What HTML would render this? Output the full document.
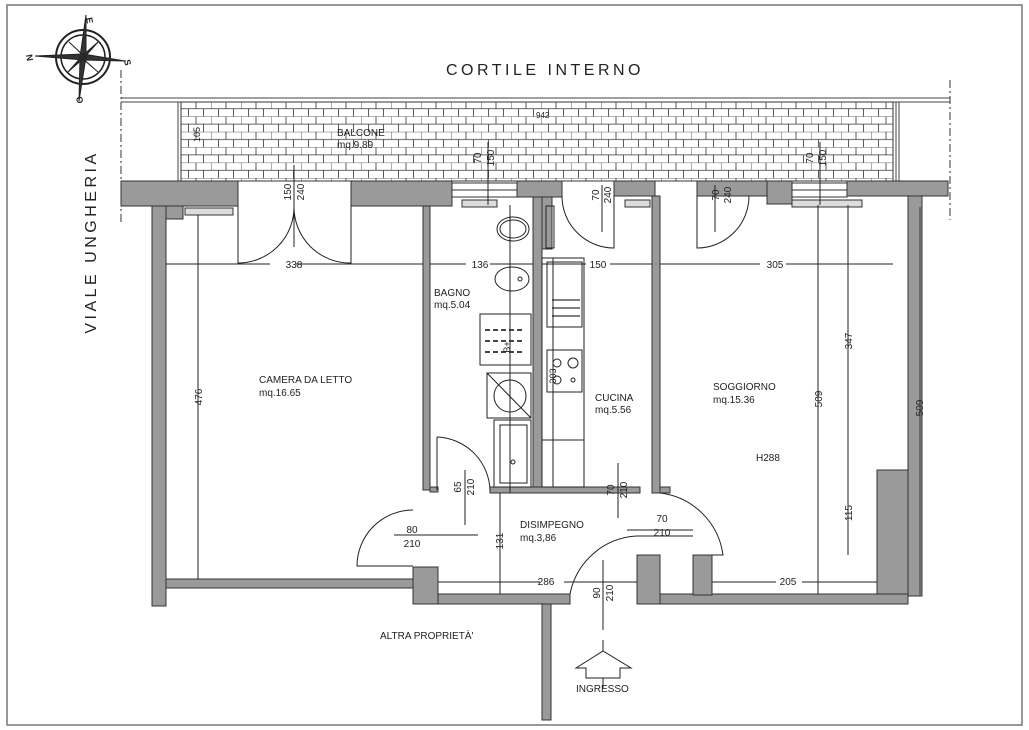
<!DOCTYPE html>
<html><head><meta charset="utf-8"><style>
html,body{margin:0;padding:0;background:#fff}
svg{display:block}
text{font-family:"Liberation Sans",sans-serif;fill:#222}
</style></head><body>
<svg width="1029" height="730" viewBox="0 0 1029 730" xmlns="http://www.w3.org/2000/svg">
<defs>
<pattern id="brick" x="181" y="101" width="30" height="15.4" patternUnits="userSpaceOnUse">
<rect width="30" height="15.4" fill="#fff"/>
<path d="M0 0H30M0 7.7H30M0 0V7.7M15 0V7.7M7.5 7.7V15.4M22.5 7.7V15.4" stroke="#333" stroke-width="0.8" fill="none"/>
</pattern>
</defs>
<rect x="7" y="5" width="1015" height="720" fill="none" stroke="#777" stroke-width="1.5"/>

<!-- compass -->
<g transform="translate(83,57)" stroke="#222" fill="none">
<circle r="27" stroke-width="2"/><circle r="22" stroke-width="1.5"/>
<polygon points="3,-42 -3,0 3,0" fill="#333"/><polygon points="-48,-1 0,-3 0,3" fill="#333"/>
<polygon points="42,4 0,-3 0,3" fill="#333"/><polygon points="-4,44 -3,0 3,0" fill="#333"/>
<polygon points="-14,-15 0,-2 2,0" fill="#333"/><polygon points="15,-15 0,2 -2,0" fill="#333"/>
<polygon points="-15,15 0,-2 2,0" fill="#333"/><polygon points="15,15 0,2 -2,0" fill="#333"/>
</g>
<text x="86" y="18" font-size="9" font-weight="bold" transform="rotate(80 86 18)">E</text>
<text x="26" y="55" font-size="9" font-weight="bold" transform="rotate(80 26 55)">N</text>
<text x="124" y="60" font-size="9" font-weight="bold" transform="rotate(80 124 60)">S</text>
<text x="76" y="97" font-size="9" font-weight="bold" transform="rotate(80 76 97)">O</text>

<text x="545" y="75" font-size="16" letter-spacing="3.5" text-anchor="middle">CORTILE INTERNO</text>
<text x="96" y="242" font-size="16" letter-spacing="3.5" text-anchor="middle" transform="rotate(-90 96 242)">VIALE UNGHERIA</text>

<!-- balcony -->
<line x1="121" y1="98" x2="950" y2="98" stroke="#444"/>
<line x1="121" y1="102" x2="950" y2="102" stroke="#444"/>
<line x1="121" y1="70" x2="121" y2="225" stroke="#333" stroke-dasharray="8,3,2,3"/>
<line x1="950" y1="80" x2="950" y2="220" stroke="#333" stroke-dasharray="8,3,2,3"/>
<rect x="178" y="102" width="3" height="79" fill="none" stroke="#444"/>
<rect x="181" y="102" width="712" height="79" fill="url(#brick)" stroke="#333"/>
<rect x="896" y="102" width="3" height="79" fill="none" stroke="#444"/>
<text x="337" y="136" font-size="10">BALCONE</text>
<text x="337" y="148" font-size="10">mq.9.89</text>
<text x="536" y="118" font-size="8">942</text>
<text x="200" y="142" font-size="9" transform="rotate(-90 200 142)">105</text>

<!-- walls -->
<g fill="#9a9a9a" stroke="#333" stroke-width="1">
<rect x="121" y="181" width="117" height="25"/>
<rect x="152" y="206" width="14" height="400"/>
<rect x="166" y="206" width="17" height="13"/>
<rect x="351" y="181" width="101" height="25"/>
<rect x="423" y="206" width="7" height="284"/>
<rect x="517" y="181" width="45" height="16"/>
<rect x="533" y="197" width="9" height="293"/>
<rect x="542" y="197" width="10" height="52"/>
<rect x="614" y="181" width="41" height="15"/>
<rect x="652" y="196" width="8" height="297"/>
<rect x="697" y="181" width="70" height="15"/>
<rect x="767" y="181" width="25" height="23"/>
<rect x="847" y="181" width="101" height="15"/>
<rect x="908" y="196" width="14" height="400"/>
<rect x="877" y="470" width="31" height="126"/>
<rect x="166" y="579" width="247" height="9"/>
<rect x="413" y="567" width="25" height="37"/>
<rect x="438" y="594" width="132" height="10"/>
<rect x="542" y="604" width="9" height="116"/>
<rect x="490" y="487" width="150" height="6"/>
<rect x="637" y="555" width="23" height="49"/>
<rect x="660" y="594" width="248" height="10"/>
<rect x="693" y="555" width="19" height="40"/>
<rect x="430" y="487" width="8" height="5"/>
<rect x="660" y="487" width="10" height="6"/>
</g>
<!-- windows -->
<g stroke="#333" fill="none">
<rect x="452" y="183" width="65" height="14"/><line x1="452" y1="190" x2="517" y2="190"/>
<rect x="792" y="183" width="55" height="14"/><line x1="792" y1="190" x2="847" y2="190"/>
<rect x="185" y="208" width="48" height="7" fill="#ddd"/>
<rect x="462" y="200" width="35" height="7" fill="#ddd"/>
<rect x="625" y="200" width="25" height="7" fill="#ddd"/>
<rect x="792" y="200" width="70" height="7" fill="#ddd"/>
</g>
<!-- doors -->
<g stroke="#222" fill="none" stroke-width="1">
<path d="M238 206V263A56 56 0 0 0 294 206"/><path d="M351 206V263A56 56 0 0 1 294 206"/>
<line x1="294" y1="165" x2="294" y2="247"/>
<path d="M562 196A52 52 0 0 0 614 248V196"/>
<path d="M697 196V248A52 52 0 0 0 749 196"/>
<path d="M437 437V490M437 437A55 55 0 0 1 490 490"/>
<path d="M413 566H357A56 56 0 0 1 413 510"/>
<path d="M570 594A72 72 0 0 1 637 536H693"/>
<path d="M660 493A72 72 0 0 1 723 555H712"/>
</g>
<!-- fixtures -->
<g stroke="#222" fill="none">
<ellipse cx="513" cy="229" rx="16" ry="12"/><ellipse cx="513" cy="229" rx="13" ry="9"/>
<ellipse cx="512" cy="279" rx="17" ry="12"/><circle cx="520" cy="279" r="2"/>
<rect x="480" y="314" width="51" height="51"/>
<rect x="487" y="373" width="44" height="45"/><circle cx="510" cy="396" r="16"/><line x1="487" y1="373" x2="531" y2="418"/>
<rect x="494" y="420" width="37" height="67"/><rect x="500" y="425" width="27" height="58"/><circle cx="513" cy="462" r="2"/>
<rect x="542" y="258" width="42" height="229"/><rect x="547" y="262" width="35" height="65"/>
<rect x="547" y="350" width="35" height="42"/><line x1="542" y1="440" x2="584" y2="440"/>
<circle cx="557" cy="363" r="4"/><circle cx="573" cy="363" r="5"/><circle cx="557" cy="380" r="4"/><circle cx="573" cy="380" r="2"/>
<rect x="546" y="206" width="8" height="42"/>
</g>
<g stroke="#444" stroke-dasharray="5,3" stroke-width="2">
<line x1="485" y1="330" x2="525" y2="330"/><line x1="485" y1="341" x2="525" y2="341"/><line x1="485" y1="352" x2="525" y2="352"/>
</g>
<g stroke="#333" stroke-width="1.2"><line x1="552" y1="300" x2="580" y2="300"/><line x1="552" y1="308" x2="580" y2="308"/><line x1="552" y1="316" x2="580" y2="316"/></g>

<!-- dimension lines -->
<g stroke="#222" stroke-width="1">
<line x1="166" y1="264" x2="423" y2="264"/><line x1="430" y1="264" x2="533" y2="264"/>
<line x1="542" y1="264" x2="652" y2="264"/><line x1="660" y1="264" x2="893" y2="264"/>
<line x1="198" y1="215" x2="198" y2="579"/>
<line x1="510" y1="205" x2="510" y2="493"/><line x1="553" y1="258" x2="553" y2="487"/>
<line x1="818" y1="205" x2="818" y2="594"/><line x1="848" y1="205" x2="848" y2="555"/>
<line x1="920" y1="207" x2="920" y2="595" stroke-width="0.8"/>
<line x1="438" y1="582" x2="637" y2="582"/><line x1="712" y1="582" x2="877" y2="582"/>
<line x1="500" y1="493" x2="500" y2="594"/>
<line x1="394" y1="535" x2="478" y2="535"/>
<line x1="465" y1="470" x2="465" y2="525"/><line x1="618" y1="463" x2="618" y2="518"/>
<line x1="603" y1="560" x2="603" y2="630"/><line x1="603" y1="640" x2="603" y2="688"/>
<line x1="627" y1="530" x2="693" y2="530"/>
<line x1="488" y1="142" x2="488" y2="205"/><line x1="820" y1="142" x2="820" y2="205"/>
<line x1="602" y1="185" x2="602" y2="232"/><line x1="715" y1="185" x2="715" y2="232"/>
</g>
<path d="M576 668L603 651L631 668H620V678H586V668Z" fill="#fff" stroke="#222"/>

<g font-size="10" text-anchor="middle">
<rect x="270" y="258" width="26" height="12" fill="#fff"/><text x="294" y="268">338</text>
<rect x="466" y="258" width="24" height="12" fill="#fff"/><text x="480" y="268">136</text>
<rect x="586" y="258" width="24" height="12" fill="#fff"/><text x="598" y="268">150</text>
<rect x="760" y="258" width="26" height="12" fill="#fff"/><text x="775" y="268">305</text>
<rect x="540" y="576" width="24" height="12" fill="#fff"/><text x="546" y="585">286</text>
<rect x="776" y="576" width="26" height="12" fill="#fff"/><text x="788" y="585">205</text>
<text x="412" y="533">80</text><text x="412" y="547">210</text>
<text x="662" y="522">70</text><text x="662" y="536">210</text>
</g>
<g font-size="10" text-anchor="middle">
<text transform="translate(202,397) rotate(-90)">476</text>
<text transform="translate(503,541) rotate(-90)">131</text>
<text transform="translate(822,399) rotate(-90)">509</text>
<text transform="translate(852,341) rotate(-90)">347</text>
<text transform="translate(852,513) rotate(-90)">115</text>
<text transform="translate(923,408) rotate(-90)">509</text>
<text transform="translate(461,487) rotate(-90)">65</text><text transform="translate(474,487) rotate(-90)">210</text>
<text transform="translate(614,490) rotate(-90)">70</text><text transform="translate(627,490) rotate(-90)">210</text>
<text transform="translate(600,593) rotate(-90)">90</text><text transform="translate(613,593) rotate(-90)">210</text>
<text transform="translate(291,192) rotate(-90)">150</text><text transform="translate(304,192) rotate(-90)">240</text>
<text transform="translate(599,195) rotate(-90)">70</text><text transform="translate(611,195) rotate(-90)">240</text>
<text transform="translate(719,195) rotate(-90)">70</text><text transform="translate(731,195) rotate(-90)">240</text>
<text transform="translate(481,158) rotate(-90)">70</text><text transform="translate(494,158) rotate(-90)">150</text>
<text transform="translate(813,158) rotate(-90)">70</text><text transform="translate(826,158) rotate(-90)">150</text>
<text transform="translate(510,347) rotate(-90)" font-size="9">B+</text>
<text transform="translate(556,376) rotate(-90)" font-size="9">303</text>
</g>
<g font-size="10">
<text x="434" y="296">BAGNO</text><text x="434" y="308">mq.5.04</text>
<text x="259" y="383">CAMERA DA LETTO</text><text x="259" y="396">mq.16.65</text>
<text x="595" y="401">CUCINA</text><text x="595" y="413">mq.5.56</text>
<text x="713" y="390">SOGGIORNO</text><text x="713" y="403">mq.15.36</text>
<text x="756" y="461">H288</text>
<text x="520" y="528">DISIMPEGNO</text><text x="520" y="541">mq.3,86</text>
<text x="380" y="639">ALTRA PROPRIETÀ'</text>
<text x="576" y="692">INGRESSO</text>
</g>
</svg>
</body></html>
